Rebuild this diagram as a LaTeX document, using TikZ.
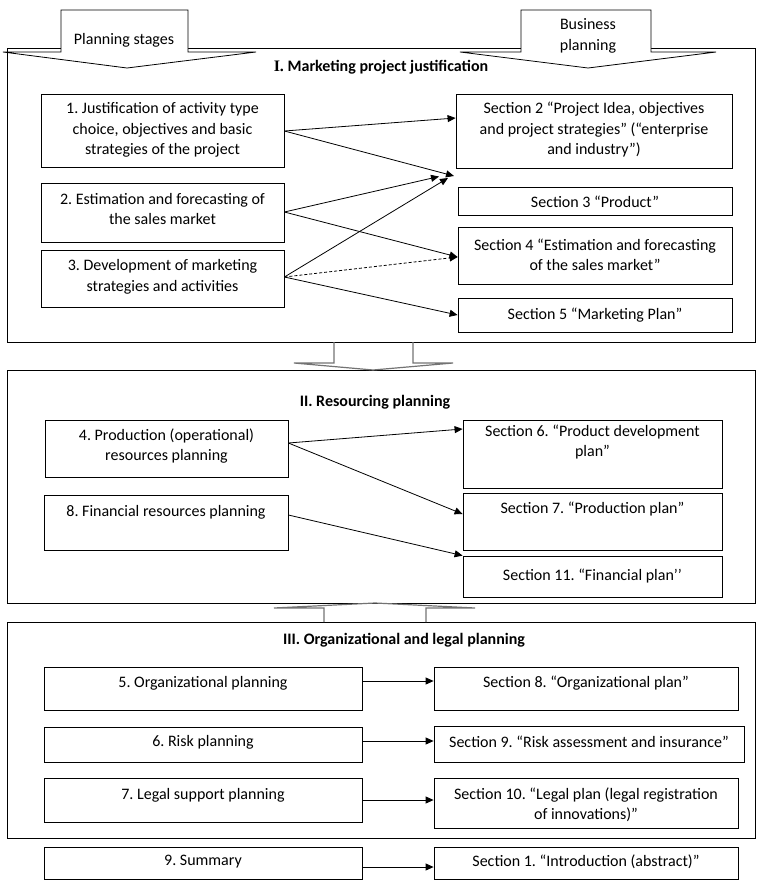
\documentclass[tikz,border=0pt]{standalone}
\usepackage{fontspec}
\setmainfont{Carlito}
\newfontfamily\serifI{Liberation Serif}
\usetikzlibrary{arrows.meta}
\frenchspacing
\begin{document}
\begin{tikzpicture}[x=1pt,y=-1pt,
  box/.style={draw,line width=0.8pt,inner sep=0pt},
  txt/.style={align=center,inner sep=0pt,font=\fontsize{16}{20.5}\selectfont},
  ttl/.style={align=center,inner sep=0pt,font=\fontsize{16}{20}\selectfont\bfseries},
  frame/.style={draw,line width=0.9pt},
  arr/.style={line width=0.8pt,-{Triangle[length=8pt,width=7pt]}},
  bigarrow/.style={draw,fill=white,line width=0.8pt,line join=miter},
  midarrow/.style={draw=black!55,line width=1.2pt,line join=miter}]
\useasboundingbox (0,0) rectangle (764,884);
% frames
\draw[frame] (7,48) rectangle (755,342);
\draw[frame] (7,370) rectangle (755,603);
\draw[frame] (7,622) rectangle (755,838);
% big top arrows
\draw[bigarrow] (61,10) -- (188,10) -- (188,52) -- (256,52) -- (127,68) -- (3,52) -- (61,52) -- cycle;
\node[txt] (ps) at (124,40) {Planning stages};
\draw[bigarrow] (521,10) -- (651,10) -- (651,52) -- (716,52) -- (588,68) -- (460,52) -- (521,52) -- cycle;
\node[txt] (bp) at (588,36) {Business\\planning};
% middle arrows
\draw[midarrow] (334,342) -- (334,363) -- (294,363) -- (373,370) -- (453,363) -- (413,363) -- (413,342);
\draw[midarrow] (324,622) -- (324,608) -- (274,608) -- (375,603) -- (475,608) -- (426,608) -- (426,622);
% titles
\node[ttl] (tI) at (381,67) {{\serifI\bfseries I.} Marketing project justification};
\node[ttl] (tII) at (375,402) {II. Resourcing planning};
\node[ttl] (tIII) at (404,640) {III. Organizational and legal planning};
% Section I boxes
\node[box,minimum width=243pt,minimum height=73pt] (b1) at (162.5,130.5) {};
\node[txt] (t1) at (162.5,130) {1. Justification of activity type\\choice, objectives and basic\\strategies of the project};
\node[box,minimum width=243pt,minimum height=59pt] (b2) at (162.5,212.5) {};
\node[txt] (t2) at (162.5,209) {2. Estimation and forecasting of\\the sales market};
\node[box,minimum width=243pt,minimum height=57pt] (b3) at (162.5,278.5) {};
\node[txt] (t3) at (162.5,277) {3. Development of marketing\\strategies and activities};
\node[box,minimum width=276pt,minimum height=74pt] (s2) at (594,131) {};
\node[txt] (ts2) at (594,130) {Section 2 “Project Idea, objectives\\and project strategies” (“enterprise\\and industry”)};
\node[box,minimum width=274pt,minimum height=28pt] (s3) at (595,201) {};
\node[txt] (ts3) at (595,202) {Section 3 “Product”};
\node[box,minimum width=274pt,minimum height=57pt] (s4) at (595,255.5) {};
\node[txt] (ts4) at (595,255) {Section 4 “Estimation and forecasting\\of the sales market”};
\node[box,minimum width=274pt,minimum height=34pt] (s5) at (595,315) {};
\node[txt] (ts5) at (595,315) {Section 5 “Marketing Plan”};
\coordinate (c1) at (454,176);
\coordinate (c2) at (439,176.5);
\coordinate (c3) at (448,178);
\draw[arr] (b1.east |- 0,131) -- (s2.west |- 0,118);
\draw[arr] (b1.east |- 0,131) -- (c1);
\draw[arr] (b2.east |- 0,212) -- (c2);
\draw[arr] (b2.east |- 0,212) -- (s4.west |- 0,257);
\draw[arr] (b3.east |- 0,277) -- (c3);
\draw[arr,dash pattern=on 3pt off 2pt] (b3.east |- 0,277) -- (s4.west |- 0,257);
\draw[arr] (b3.east |- 0,277) -- (s5.west |- 0,315);
% Section II boxes
\node[box,minimum width=243pt,minimum height=57pt] (b4) at (166.5,448.5) {};
\node[txt] (t4) at (166.5,446) {4. Production (operational)\\resources planning};
\node[box,minimum width=244pt,minimum height=55pt] (b8) at (166,522.5) {};
\node[txt] (t8) at (166,512) {8. Financial resources planning};
\node[box,minimum width=259pt,minimum height=68pt] (s6) at (592.5,454) {};
\node[txt] (ts6) at (592.5,442) {Section 6. “Product development\\plan”};
\node[box,minimum width=259pt,minimum height=57pt] (s7) at (592.5,521.5) {};
\node[txt] (ts7) at (592.5,509) {Section 7. “Production plan”};
\node[box,minimum width=259pt,minimum height=41pt] (s11) at (592.5,576.5) {};
\node[txt] (ts11) at (592.5,576) {Section 11. “Financial plan’’};
\draw[arr] (b4.east |- 0,443) -- (s6.west |- 0,429);
\draw[arr] (b4.east |- 0,443) -- (s7.west |- 0,514);
\draw[arr] (b8.east |- 0,515) -- (s11.north west);
% Section III boxes
\node[box,minimum width=318pt,minimum height=43pt] (b5) at (203,688.5) {};
\node[txt] (t5) at (203,683) {5. Organizational planning};
\node[box,minimum width=304pt,minimum height=43pt] (s8) at (586,688.5) {};
\node[txt] (ts8) at (586,683) {Section 8. “Organizational plan”};
\node[box,minimum width=318pt,minimum height=35pt] (b6) at (203,744.5) {};
\node[txt] (t6) at (203,742) {6. Risk planning};
\node[box,minimum width=310pt,minimum height=36pt] (s9) at (589,744) {};
\node[txt] (ts9) at (589,742) {Section 9. “Risk assessment and insurance”};
\node[box,minimum width=318pt,minimum height=44pt] (b7) at (203,800) {};
\node[txt] (t7) at (203,795) {7. Legal support planning};
\node[box,minimum width=304pt,minimum height=50pt] (s10) at (586,803) {};
\node[txt] (ts10) at (586,805) {Section 10. “Legal plan (legal registration\\of innovations)”};
\node[box,minimum width=318pt,minimum height=32pt] (b9) at (203,863) {};
\node[txt] (t9) at (203,862) {9. Summary};
\node[box,minimum width=304pt,minimum height=32pt] (s1) at (586,863) {};
\node[txt] (ts1) at (586,862) {Section 1. “Introduction (abstract)”};
\draw[arr] (b5.east |- 0,681) -- (s8.west |- 0,681);
\draw[arr] (b6.east |- 0,741) -- (s9.west |- 0,741);
\draw[arr] (b7.east |- 0,800) -- (s10.west |- 0,800);
\draw[arr] (b9.east |- 0,867) -- (s1.west |- 0,867);
\end{tikzpicture}
\end{document}
